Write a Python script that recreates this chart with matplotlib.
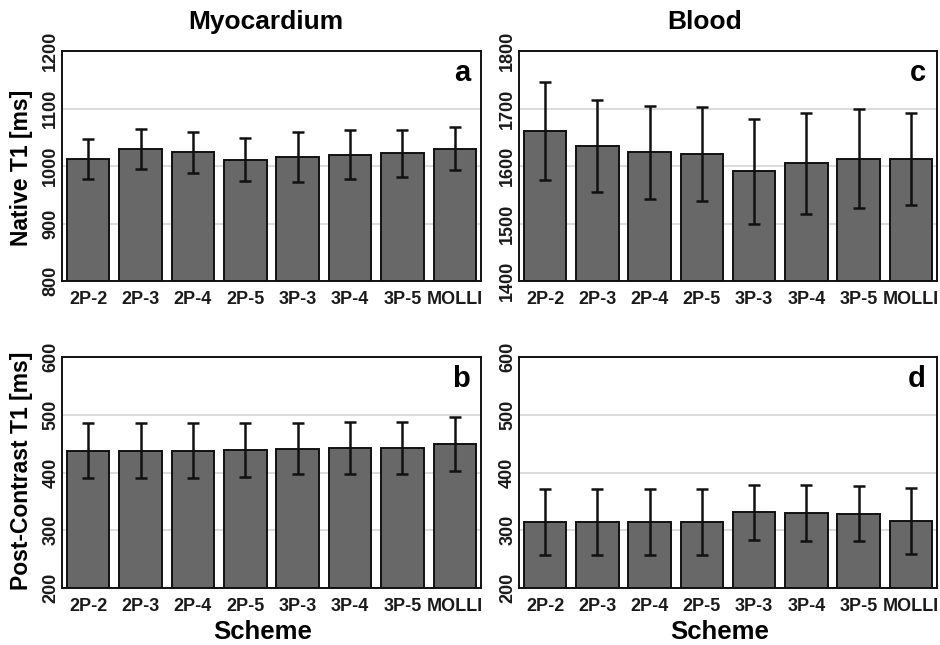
import matplotlib
matplotlib.use("Agg")
import matplotlib.pyplot as plt

plt.rcParams['font.family'] = ['Liberation Sans', 'DejaVu Sans']
plt.rcParams['font.weight'] = 'bold'

schemes = ['2P-2', '2P-3', '2P-4', '2P-5', '3P-3', '3P-4', '3P-5', 'MOLLI']

# native T1, myocardium (panel a)
myo_native = [1012, 1030, 1024, 1011, 1016, 1020, 1022, 1030]
myo_native_sd = [35, 35, 36, 37, 43, 42, 41, 37]
# post-contrast T1, myocardium (panel b)
myo_post = [438, 438, 438, 439, 441, 442, 442, 450]
myo_post_sd = [48, 48, 47, 47, 44, 45, 45, 47]
# native T1, blood (panel c)
blood_native = [1661, 1634, 1624, 1621, 1591, 1605, 1613, 1613]
blood_native_sd = [85, 80, 81, 82, 91, 88, 86, 80]
# post-contrast T1, blood (panel d)
blood_post = [314, 314, 314, 315, 331, 330, 329, 316]
blood_post_sd = [57, 57, 57, 57, 48, 48, 48, 57]

panels = [
    # (values, sd, ylim, letter, rect)
    (myo_native, myo_native_sd, (800, 1200), 'a', [0.066, 0.5643, 0.4457, 0.3566]),
    (myo_post, myo_post_sd, (200, 600), 'b', [0.066, 0.0884, 0.4457, 0.3580]),
    (blood_native, blood_native_sd, (1400, 1800), 'c', [0.5521, 0.5643, 0.4447, 0.3566]),
    (blood_post, blood_post_sd, (200, 600), 'd', [0.5521, 0.0884, 0.4447, 0.3580]),
]

fig = plt.figure(figsize=(9.4, 6.45), dpi=100)

for vals, sd, ylim, letter, rect in panels:
    ax = fig.add_axes(rect)
    x = list(range(len(schemes)))
    ax.set_axisbelow(True)
    ax.yaxis.grid(True, color='#d9d9d9', linewidth=1.3)
    ax.bar(x, [v - ylim[0] for v in vals], bottom=ylim[0], width=0.81,
           color='#686868', edgecolor='#111111', linewidth=1.4, zorder=2)
    ax.errorbar(x, vals, yerr=sd, fmt='none', ecolor='#111111',
                elinewidth=1.8, capsize=4.5, capthick=1.8, zorder=3)
    ax.set_xlim(-0.5, 7.5)
    ax.set_ylim(*ylim)
    ax.set_yticks(range(ylim[0], ylim[1] + 1, 100))
    ax.set_xticks(x)
    ax.set_xticklabels(schemes)
    ax.tick_params(length=0, labelsize=13, labelcolor='#1a1a1a')
    ax.tick_params(axis='x', pad=7)
    ax.tick_params(axis='y', pad=2)
    for lab in ax.get_yticklabels():
        lab.set_rotation(90)
        lab.set_va('center')
    for s in ax.spines.values():
        s.set_linewidth(1.4)
        s.set_color('#111111')
    ax.text(0.974, 0.87, letter, transform=ax.transAxes, ha='right',
            va='baseline', fontsize=21, fontweight='bold')

fig.text(266 / 940, 1 - 22 / 645, 'Myocardium', ha='center', va='center',
         fontsize=19, fontweight='bold')
fig.text(705 / 940, 1 - 22 / 645, 'Blood', ha='center', va='center',
         fontsize=19, fontweight='bold')
fig.text(263 / 940, 1 - 632 / 645, 'Scheme', ha='center', va='center',
         fontsize=18.5, fontweight='bold')
fig.text(720 / 940, 1 - 632 / 645, 'Scheme', ha='center', va='center',
         fontsize=18.5, fontweight='bold')
fig.text(22 / 940, 1 - 168 / 645, 'Native T1 [ms]', ha='center', va='center',
         rotation=90, fontsize=16.5, fontweight='bold')
fig.text(22 / 940, 1 - 471 / 645, 'Post-Contrast T1 [ms]', ha='center',
         va='center', rotation=90, fontsize=16.5, fontweight='bold')

fig.savefig('out.png', dpi=100)
